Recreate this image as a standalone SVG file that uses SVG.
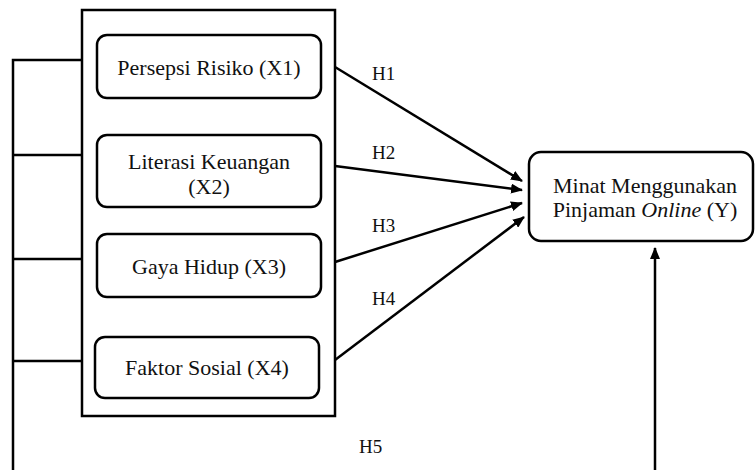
<svg xmlns="http://www.w3.org/2000/svg" width="755" height="470" viewBox="0 0 755 470">
<style>
.box{fill:#fff;stroke:#000;stroke-width:2.5}
.t{font-size:22px;fill:#111;text-anchor:middle}
.h{font-size:19px;fill:#111}
.ln{stroke:#000;stroke-width:2.5;fill:none}
</style>
<defs>
<marker id="ah" markerWidth="12" markerHeight="10" refX="11" refY="5" orient="auto" markerUnits="userSpaceOnUse">
<path d="M0,0 L12,5 L0,10 Z" fill="#000"/>
</marker>
</defs>
<rect width="755" height="470" fill="#fff"/>
<g font-family="'Liberation Serif', 'DejaVu Serif', serif">
<g id="outer"><rect class="box" x="82" y="10" width="253" height="406"/></g>
<g id="x1"><rect class="box" x="97" y="35" width="224" height="63" rx="10"/><text class="t" x="209" y="75">Persepsi Risiko (X1)</text></g>
<g id="x2"><rect class="box" x="97" y="135" width="224" height="72" rx="10"/><text class="t" x="209" y="169">Literasi Keuangan</text><text class="t" x="209" y="194">(X2)</text></g>
<g id="x3"><rect class="box" x="97" y="234" width="224" height="63" rx="10"/><text class="t" x="209" y="274">Gaya Hidup (X3)</text></g>
<g id="x4"><rect class="box" x="95" y="337" width="224" height="61" rx="10"/><text class="t" x="207" y="375">Faktor Sosial (X4)</text></g>
<g id="y"><rect class="box" x="529" y="152" width="224" height="89" rx="12"/><text class="t" x="645" y="193">Minat Menggunakan</text><text class="t" x="645" y="217">Pinjaman <tspan font-style="italic">Online</tspan> (Y)</text></g>
<g id="connectors">
<path class="ln" d="M82,60 H13 V470 M13,155 H82 M13,259 H82 M13,361 H82"/>
<line class="ln" x1="335" y1="67" x2="522" y2="181" marker-end="url(#ah)"/>
<line class="ln" x1="335" y1="166" x2="522" y2="190" marker-end="url(#ah)"/>
<line class="ln" x1="335" y1="262" x2="522" y2="203" marker-end="url(#ah)"/>
<line class="ln" x1="335" y1="360" x2="524" y2="217" marker-end="url(#ah)"/>
<line class="ln" x1="655" y1="470" x2="655" y2="248" marker-end="url(#ah)"/>
<text class="h" x="372" y="80">H1</text>
<text class="h" x="372" y="159">H2</text>
<text class="h" x="372" y="232">H3</text>
<text class="h" x="372" y="305">H4</text>
<text class="h" x="359" y="453">H5</text>
</g>
</g>
</svg>
